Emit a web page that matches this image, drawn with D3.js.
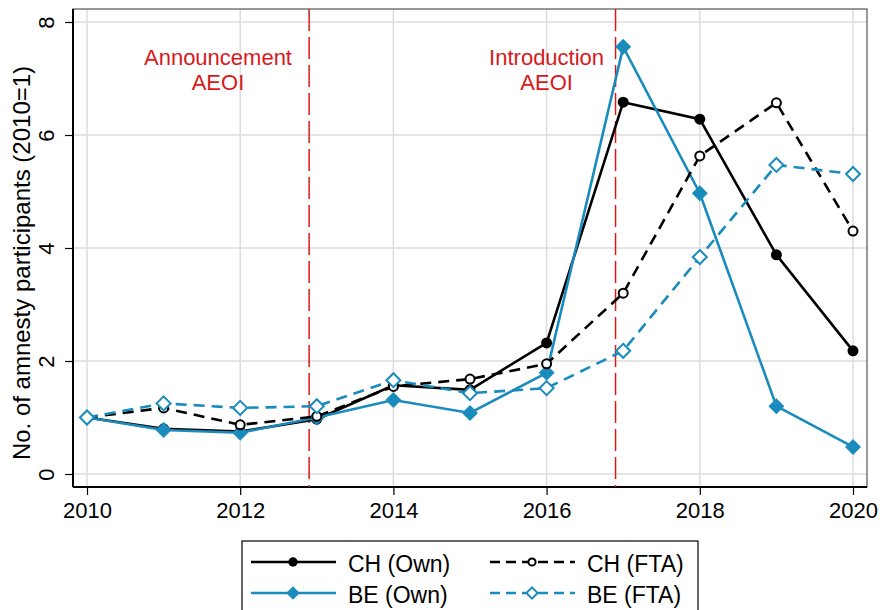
<!DOCTYPE html>
<html><head><meta charset="utf-8">
<script src="https://cdn.jsdelivr.net/npm/d3@7"></script>
<style>body{margin:0;background:#fff;}svg{display:block;font-family:"Liberation Sans",Arial,sans-serif;}</style>
</head><body><svg id="c" width="880" height="610"></svg>
<script>
const years = [2010,2011,2012,2013,2014,2015,2016,2017,2018,2019,2020];
const chOwn = [1.0,0.80,0.75,0.97,1.57,1.49,2.32,6.58,6.28,3.88,2.18];
const beOwn = [1.0,0.78,0.73,1.0,1.31,1.08,1.79,7.56,4.97,1.20,0.48];
const chFta = [1.0,1.17,0.87,1.02,1.55,1.68,1.95,3.20,5.63,6.57,4.30];
const beFta = [1.0,1.25,1.17,1.20,1.66,1.43,1.52,2.18,3.84,5.47,5.31];
const xTicks = [2010,2012,2014,2016,2018,2020];
const yTicks = [0,2,4,6,8];
const eventYears = [2012.9, 2016.9];
const eventLabelYears = [2011.71, 2016.0];
const eventLabels = [["Announcement","AEOI"],["Introduction","AEOI"]];
const yTitle = "No. of amnesty participants (2010=1)";

const BLUE = "#1a8bbd";
const RED = "#d7191c";
const svg = d3.select("#c");
const x = d3.scaleLinear().domain([2010,2020]).range([87,853]);
const y = d3.scaleLinear().domain([0,8]).range([474,22]);
const L=73,R=867,T=9,B=487;

// grid
svg.append("g").selectAll("line").data(xTicks).join("line")
  .attr("x1",d=>x(d)).attr("x2",d=>x(d)).attr("y1",T).attr("y2",B)
  .attr("stroke","#dcdcdc").attr("stroke-width",1.5);
svg.append("g").selectAll("line").data(yTicks).join("line")
  .attr("x1",L).attr("x2",R).attr("y1",d=>y(d)).attr("y2",d=>y(d))
  .attr("stroke","#dcdcdc").attr("stroke-width",1.5);
// frame
svg.append("rect").attr("x",L).attr("y",T).attr("width",R-L).attr("height",B-T)
  .attr("fill","none").attr("stroke","#333").attr("stroke-width",1);
svg.append("line").attr("x1",L).attr("x2",L).attr("y1",T).attr("y2",B).attr("stroke","#000").attr("stroke-width",2);
svg.append("line").attr("x1",L).attr("x2",R).attr("y1",B).attr("y2",B).attr("stroke","#000").attr("stroke-width",2);

// axes
const xa = svg.append("g").attr("transform",`translate(0,${B})`)
  .call(d3.axisBottom(x).tickValues(xTicks).tickFormat(d3.format("d")).tickSize(8).tickPadding(7));
xa.select(".domain").remove();
xa.selectAll("text").attr("font-size",22).attr("fill","#000").attr("font-family","Liberation Sans, Arial, sans-serif");
xa.selectAll("line").attr("stroke","#000").attr("stroke-width",1.2);
const ya = svg.append("g").attr("transform",`translate(${L},0)`)
  .call(d3.axisLeft(y).tickValues(yTicks).tickSize(8).tickPadding(0));
ya.select(".domain").remove();
ya.selectAll("line").attr("stroke","#000").attr("stroke-width",1.2);
ya.selectAll("text").attr("font-size",22).attr("fill","#000").attr("font-family","Liberation Sans, Arial, sans-serif")
  .attr("transform","translate(-19,0) rotate(-90)").attr("x",0).attr("dy","0").attr("text-anchor","middle");
svg.append("text").attr("transform",`translate(30,263) rotate(-90)`)
  .attr("text-anchor","middle").attr("font-size",24).text(yTitle);

// event lines
eventYears.forEach((ev,k)=>{
  svg.append("line").attr("x1",x(ev)).attr("x2",x(ev)).attr("y1",T).attr("y2",B)
    .attr("stroke",RED).attr("stroke-width",1.5).attr("stroke-dasharray","22,6");
  eventLabels[k].forEach((s,i)=>svg.append("text").attr("fill",RED).attr("font-size",22)
    .attr("text-anchor","middle").attr("x",x(eventLabelYears[k])).attr("y",64.5+i*25).text(s));
});

const line = d3.line().x((d,i)=>x(years[i])).y(d=>y(d));
const series = [
  {name:"CH (Own)",data:chOwn,color:"#000",dash:null,marker:"circle",fill:true},
  {name:"BE (Own)",data:beOwn,color:BLUE,dash:null,marker:"diamond",fill:true},
  {name:"CH (FTA)",data:chFta,color:"#000",dash:"11,7",marker:"circle",fill:false},
  {name:"BE (FTA)",data:beFta,color:BLUE,dash:"11,7",marker:"diamond",fill:false}
];
function marker(g,s,cx,cy,scale){
  if(s.marker==="circle"){
    const r = s.fill?5.5:4.5;
    g.append("circle").attr("cx",cx).attr("cy",cy).attr("r",r*scale)
     .attr("fill",s.fill?s.color:"#fff").attr("stroke",s.color).attr("stroke-width",s.fill?0:2);
  } else {
    const h = (s.fill?8:7)*scale;
    g.append("path").attr("d",`M${cx},${cy-h}L${cx+h},${cy}L${cx},${cy+h}L${cx-h},${cy}Z`)
     .attr("fill",s.fill?s.color:"#fff").attr("stroke",s.color).attr("stroke-width",s.fill?0:2);
  }
}
series.forEach(s=>{
  const g = svg.append("g");
  g.append("path").datum(s.data).attr("d",line).attr("fill","none").attr("stroke",s.color)
    .attr("stroke-width",2.6).attr("stroke-dasharray",s.dash);
  s.data.forEach((v,i)=>marker(g,s,x(years[i]),y(v),1));
});

// legend
const lg = svg.append("g");
lg.append("rect").attr("x",242).attr("y",541).attr("width",456).attr("height",80)
  .attr("fill","#fff").attr("stroke","#000").attr("stroke-width",1.2);
const pos = [[251,562],[251,593],[490,562],[490,593]];
series.forEach((s,i)=>{
  const [lx,ly]=pos[i];
  lg.append("line").attr("x1",lx).attr("x2",lx+85).attr("y1",ly).attr("y2",ly)
    .attr("stroke",s.color).attr("stroke-width",2.6).attr("stroke-dasharray",s.dash?"10,6":null);
  marker(lg,s,lx+42,ly,s.fill?0.85:0.8);
  lg.append("text").attr("x",lx+97).attr("y",ly+10).attr("font-size",23).text(s.name);
});
</script></body></html>
